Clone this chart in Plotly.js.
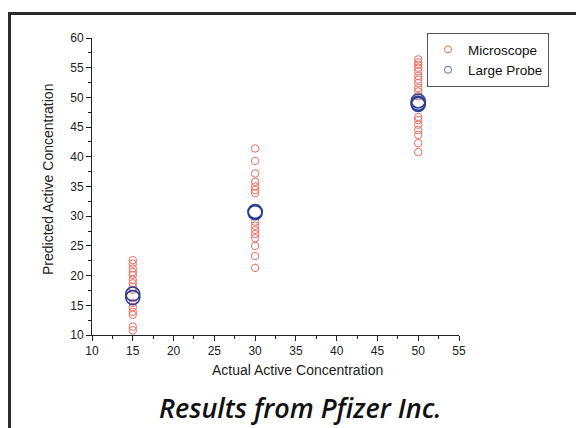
<!DOCTYPE html>
<html>
<head>
<meta charset="utf-8">
<script src="https://cdn.plot.ly/plotly-3.0.1.min.js"></script>
<style>
  html, body { margin: 0; padding: 0; background: #fff; }
  #wrap { position: relative; width: 576px; height: 428px; overflow: hidden; }
  #frame { position: absolute; left: 8px; top: 12px; width: 700px; height: 600px;
           border-left: 3px solid #2b2b2b; border-top: 3px solid #2b2b2b; pointer-events: none; }
  #chart { position: absolute; left: 0; top: 0; width: 576px; height: 428px; }
</style>
</head>
<body>
<div id="wrap">
  <div id="chart"></div>
  <div id="frame"></div>
</div>
<script>
// Actual concentrations (groups)
const groups = [15, 30, 50];
// Series names
const seriesNames = ['Microscope', 'Large Probe'];
// Microscope predictions per group
const micro15 = [22.6, 22.0, 21.2, 20.6, 20.1, 19.3, 18.7, 18.1, 17.6, 15.4, 14.7, 13.9, 13.4, 11.4, 10.8];
const micro30 = [41.4, 39.3, 37.2, 35.8, 35.0, 34.4, 33.9, 29.1, 28.4, 27.7, 27.0, 26.3, 25.0, 23.3, 21.3];
const micro50 = [56.4, 55.9, 55.5, 55.0, 54.4, 53.6, 53.0, 52.4, 51.6, 51.0, 50.2, 46.7, 46.2, 45.4, 44.5, 43.7, 42.3, 40.8];
// Large probe predictions per group
const probe15 = [16.9, 16.3];
const probe30 = [30.8, 30.6];
const probe50 = [49.4, 49.0, 48.8];
// Tick labels
const xTicks = [10, 15, 20, 25, 30, 35, 40, 45, 50, 55];
const yTicks = [10, 15, 20, 25, 30, 35, 40, 45, 50, 55, 60];

const red = '#ee6e62', blue = '#2d3f95';

function expand(groupVals, lists) {
  const xs = [], ys = [];
  lists.forEach((arr, i) => arr.forEach(v => { xs.push(groupVals[i]); ys.push(v); }));
  return {xs, ys};
}
const m = expand(groups, [micro15, micro30, micro50]);
const p = expand(groups, [probe15, probe30, probe50]);

const traces = [
  { type: 'scatter', mode: 'markers', name: seriesNames[0], x: m.xs, y: m.ys, showlegend: false,
    marker: { symbol: 'circle-open', size: 7.5, color: red, line: { width: 1, color: red } } },
  { type: 'scatter', mode: 'markers', name: seriesNames[1], x: p.xs, y: p.ys, showlegend: false,
    marker: { symbol: 'circle-open', size: 14, color: blue, line: { width: 1.6, color: blue } } },
  // legend entries (small symbols, as in the reference legend)
  { type: 'scatter', mode: 'markers', name: seriesNames[0], x: [null], y: [null],
    marker: { symbol: 'circle-open', size: 7, color: red, line: { width: 1, color: red } } },
  { type: 'scatter', mode: 'markers', name: seriesNames[1], x: [null], y: [null],
    marker: { symbol: 'circle-open', size: 7, color: '#5b6bb5', line: { width: 1, color: '#5b6bb5' } } }
];

const axisFont = { family: 'Liberation Sans, Arial, sans-serif', size: 12, color: '#222' };
const layout = {
  width: 576, height: 428,
  margin: { l: 92, r: 117, t: 38, b: 93, pad: 0 },
  paper_bgcolor: 'rgba(0,0,0,0)', plot_bgcolor: 'rgba(0,0,0,0)',
  showlegend: true,
  legend: {
    x: (549 - 92) / 367, y: (335 - 33) / 297, xanchor: 'right', yanchor: 'top',
    bordercolor: '#555', borderwidth: 1, bgcolor: '#fff',
    font: { family: 'Liberation Sans, Arial, sans-serif', size: 13.5, color: '#111' },
    itemsizing: 'trace', tracegroupgap: 0, itemwidth: 30
  },
  xaxis: {
    range: [10, 55], tickvals: xTicks, ticktext: xTicks.map(String),
    showgrid: false, zeroline: false, showline: true, linecolor: '#222', linewidth: 1,
    ticks: 'outside', ticklen: 5, tickcolor: '#222', tickfont: axisFont,
    minor: { dtick: 2.5, ticks: 'outside', ticklen: 3, tickcolor: '#222', showgrid: false },
    fixedrange: true
  },
  yaxis: {
    range: [10, 60], tickvals: yTicks, ticktext: yTicks.map(String),
    showgrid: false, zeroline: false, showline: true, linecolor: '#222', linewidth: 1,
    ticks: 'outside', ticklen: 5, tickcolor: '#222', tickfont: axisFont,
    minor: { dtick: 2.5, ticks: 'outside', ticklen: 3, tickcolor: '#222', showgrid: false },
    fixedrange: true
  },
  annotations: [
    { text: 'Actual Active Concentration', xref: 'paper', yref: 'paper',
      x: (297 - 92) / 367, y: (335 - 370) / 297, xanchor: 'center', yanchor: 'middle',
      showarrow: false, font: { family: 'Liberation Sans, Arial, sans-serif', size: 14, color: '#222' } },
    { text: 'Predicted Active Concentration', xref: 'paper', yref: 'paper',
      x: (48 - 92) / 367, y: (335 - 180) / 297, xanchor: 'center', yanchor: 'middle', textangle: -90,
      showarrow: false, font: { family: 'Liberation Sans, Arial, sans-serif', size: 14, color: '#222' } },
    { text: 'Results from Pfizer Inc.', xref: 'paper', yref: 'paper',
      x: (300 - 92) / 367, y: (335 - 407) / 297, xanchor: 'center', yanchor: 'middle',
      showarrow: false, font: { family: 'Open Sans, sans-serif', size: 27, weight: 600, style: 'italic', color: '#111' } }
  ]
};

Plotly.newPlot('chart', traces, layout, { displayModeBar: false, staticPlot: true });
</script>
</body>
</html>
